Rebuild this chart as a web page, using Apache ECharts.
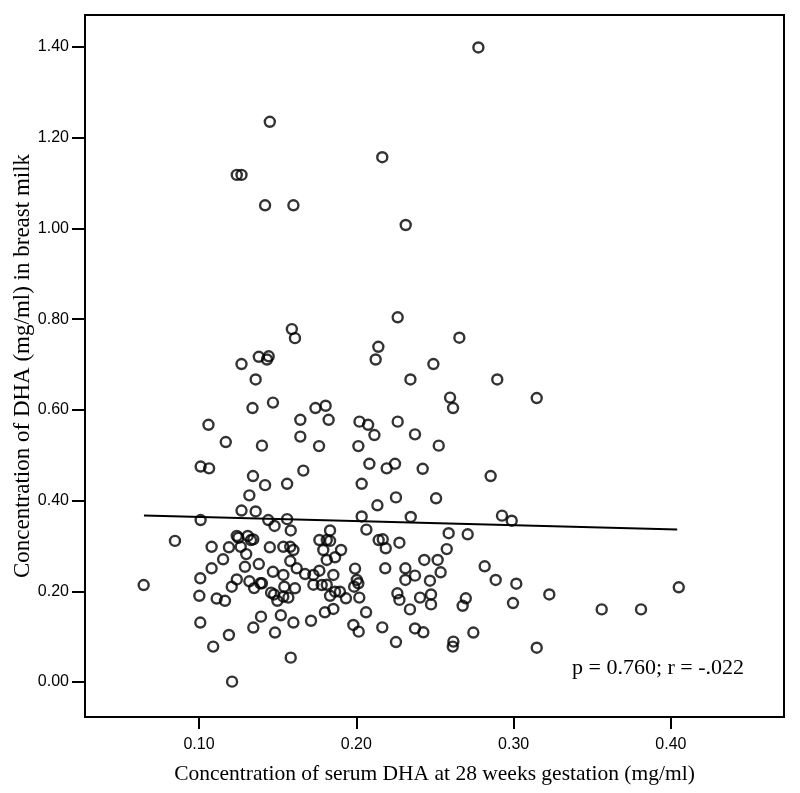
<!DOCTYPE html>
<html><head><meta charset="utf-8">
<script src="https://cdn.jsdelivr.net/npm/echarts@6/dist/echarts.min.js"></script>
<style>html,body{margin:0;padding:0;background:#fff}#c{width:800px;height:793px}</style>
</head><body><div id="c"></div>
<script>
// Serum DHA at 28 weeks (mg/ml)
const serumDHA = [
0.145,0.124,0.127,0.142,0.160,0.2165,0.2314,0.2776,
0.138,0.1443,0.1432,0.127,0.136,0.147,0.134,0.106,0.117,0.140,
0.159,0.161,0.2263,0.2655,0.214,0.2123,0.249,0.2344,0.2596,0.2615,0.174,0.1805,0.1644,0.1824,0.202,0.2075,0.2263,0.2115,0.2373,0.1644,0.1763,0.2013,0.2524,
0.2896,0.3147,
0.101,0.1064,0.1343,0.142,0.132,0.127,0.136,0.101,0.144,0.148,0.0847,0.124,0.125,0.131,0.133,0.1345,0.108,0.119,0.1265,0.145,0.130,0.1153,0.108,0.1292,0.138,0.147,0.1008,0.124,0.132,0.139,0.140,0.1208,0.135,0.0648,0.1002,0.1112,0.1165,0.1458,0.1477,0.1498,0.1008,0.1394,0.1345,0.152,0.1483,0.119,0.109,0.121,
0.2083,0.2193,0.2246,0.2422,0.1663,0.156,0.2034,0.2252,0.2507,0.2134,0.156,0.2034,0.2346,0.1583,0.1833,0.2064,0.2587,0.2708,0.1765,0.1812,0.1833,0.2142,0.2168,0.2187,0.2274,0.1536,0.158,0.160,0.179,0.1903,0.1865,0.1812,0.2575,0.2432,0.2517,0.158,0.2184,0.1992,0.2312,0.2373,0.2312,0.2536,0.2468,0.1621,0.1674,0.1727,0.1765,0.1854,0.1536,0.2003,0.2013,0.1986,0.1727,0.178,0.1812,0.1542,0.161,0.1865,0.1896,0.1833,0.1934,0.2019,0.1536,0.1568,0.2261,0.2274,0.2341,0.2405,0.2475,0.2475,0.2696,0.2676,0.180,0.1854,0.2062,0.160,0.1712,0.1981,0.2015,0.2165,0.2373,0.2426,0.2252,0.2617,0.2613,0.2744,0.1583,
0.2854,0.2926,0.2988,0.2816,0.2886,0.3017,0.2996,0.3227,0.356,0.381,0.405,0.3147
];
// Breast milk DHA (mg/ml)
const milkDHA = [
1.235,1.118,1.118,1.051,1.051,1.157,1.0075,1.399,
0.717,0.718,0.711,0.701,0.667,0.616,0.604,0.567,0.529,0.521,
0.778,0.758,0.804,0.759,0.739,0.711,0.701,0.667,0.627,0.604,0.604,0.609,0.578,0.578,0.574,0.567,0.574,0.5445,0.546,0.541,0.520,0.520,0.521,
0.667,0.626,
0.475,0.471,0.454,0.434,0.4115,0.378,0.376,0.357,0.357,0.344,0.311,0.322,0.318,0.322,0.313,0.3145,0.298,0.297,0.298,0.297,0.282,0.2705,0.2506,0.254,0.260,0.243,0.2286,0.226,0.222,0.2176,0.2176,0.210,0.207,0.2138,0.190,0.184,0.179,0.197,0.193,0.179,0.131,0.144,0.120,0.147,0.109,0.1036,0.078,0.0007,
0.481,0.471,0.481,0.470,0.466,0.437,0.437,0.407,0.405,0.3895,0.359,0.365,0.3638,0.334,0.334,0.336,0.328,0.3256,0.313,0.313,0.311,0.313,0.3146,0.2947,0.307,0.298,0.298,0.291,0.291,0.291,0.275,0.269,0.293,0.269,0.269,0.2667,0.2506,0.250,0.2506,0.2344,0.225,0.2418,0.2233,0.2506,0.238,0.236,0.2454,0.236,0.236,0.225,0.2176,0.210,0.2145,0.2138,0.2145,0.210,0.2066,0.199,0.199,0.190,0.1845,0.186,0.188,0.186,0.1955,0.181,0.160,0.186,0.193,0.171,0.1845,0.168,0.1536,0.161,0.1536,0.131,0.135,0.1257,0.111,0.1205,0.118,0.1096,0.088,0.089,0.078,0.109,0.0536,
0.454,0.3667,0.3556,0.255,0.225,0.2167,0.174,0.193,0.160,0.160,0.2088,0.0756
];
// Fit line end points
const fitX = [0.065, 0.404];
const fitY = [0.367, 0.336];
const xTicks = [0.10, 0.20, 0.30, 0.40];
const yTicks = [0.00, 0.20, 0.40, 0.60, 0.80, 1.00, 1.20, 1.40];
const statText = 'p = 0.760; r = -.022';
const xTitle = 'Concentration of serum DHA at 28 weeks gestation (mg/ml)';
const yTitle = 'Concentration of DHA (mg/ml) in breast milk';

const pts = serumDHA.map((x, i) => [x, milkDHA[i]]);
const fit = fitX.map((x, i) => [x, fitY[i]]);
const tickFont = "'Liberation Sans',Arial,sans-serif";
const serif = "'Liberation Serif','Times New Roman',serif";

const chart = echarts.init(document.getElementById('c'));
chart.setOption({
  animation: false,
  backgroundColor: '#fff',
  grid: { left: 85, right: 16, top: 15, bottom: 76, outerBoundsMode: 'none', containLabel: false,
          show: true, borderColor: '#000', borderWidth: 2, backgroundColor: '#fff' },
  xAxis: {
    type: 'value', min: 0.0275, max: 0.4719,
    name: xTitle, nameLocation: 'middle', nameGap: 46, nameMoveOverlap: false,
    nameTextStyle: { fontFamily: serif, fontSize: 21.5, color: '#000' },
    axisLine: { show: true, onZero: false, lineStyle: { color: '#000', width: 2 } },
    axisTick: { show: true, inside: false, length: 12, customValues: xTicks, lineStyle: { color: '#000', width: 2 } },
    axisLabel: { customValues: xTicks, formatter: v => v.toFixed(2), fontFamily: tickFont, fontSize: 16, color: '#000', margin: 20 },
    splitLine: { show: false }
  },
  yAxis: {
    type: 'value', min: -0.0772, max: 1.4705,
    name: yTitle, nameLocation: 'middle', nameGap: 51, nameMoveOverlap: false,
    nameTextStyle: { fontFamily: serif, fontSize: 23, color: '#000' },
    axisLine: { show: true, onZero: false, lineStyle: { color: '#000', width: 2 } },
    axisTick: { show: true, inside: false, length: 13, customValues: yTicks, lineStyle: { color: '#000', width: 2 } },
    axisLabel: { customValues: yTicks, formatter: v => v.toFixed(2), fontFamily: tickFont, fontSize: 16, color: '#000', margin: 16 },
    splitLine: { show: false }
  },
  graphic: [{
    type: 'text', left: 572, top: 657,
    style: { text: statText, font: "22px 'Liberation Serif','Times New Roman',serif", fill: '#000' }
  }],
  series: [
    { type: 'line', data: fit, symbol: 'none', lineStyle: { color: '#000', width: 2 }, z: 3 },
    { type: 'scatter', data: pts, symbol: 'circle', symbolSize: 10,
      itemStyle: { color: 'rgba(0,0,0,0)', borderColor: '#000', borderWidth: 2.4 }, z: 4 }
  ]
});
</script></body></html>
